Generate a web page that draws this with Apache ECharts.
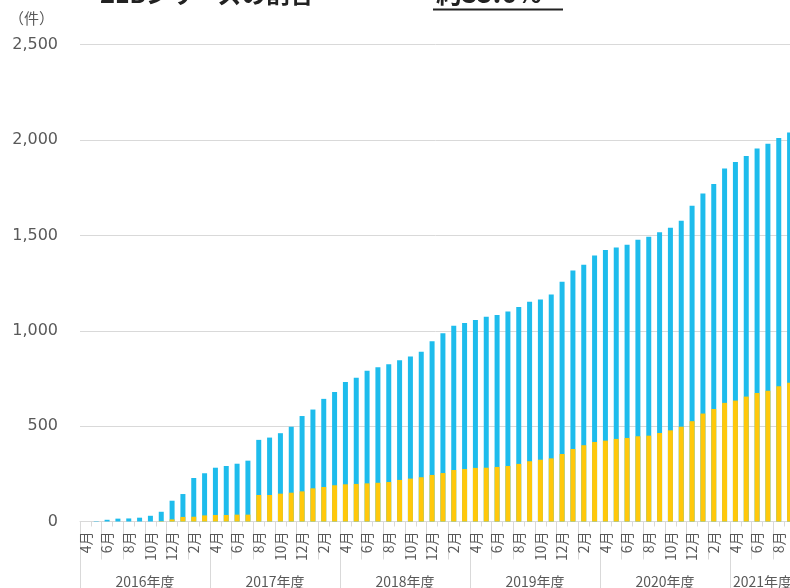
<!DOCTYPE html>
<html><head><meta charset="utf-8">
<script src="https://cdn.jsdelivr.net/npm/echarts@6/dist/echarts.min.js"></script>
<style>html,body{margin:0;padding:0;background:#fff}#c{width:790px;height:588px}</style>
</head><body><div id="c"></div>
<script>
// Month labels (fiscal years start in April), Apr 2016 .. Sep 2021
const monthNames = ['4月','5月','6月','7月','8月','9月','10月','11月','12月','1月','2月','3月'];
const fiscalYears = ['2016年度','2017年度','2018年度','2019年度','2020年度','2021年度'];
const monthsPerYear = [12, 12, 12, 12, 12, 6];

// Cumulative total count (件) — whole bar height
const totalCount = [
  0, 2, 9, 15, 16, 20, 30, 51, 109, 144, 228, 253,
  282, 291, 303, 319, 428, 440, 463, 497, 553, 587, 643, 679,
  732, 754, 790, 809, 825, 845, 865, 890, 945, 987, 1026, 1041,
  1057, 1073, 1083, 1101, 1125, 1152, 1164, 1190, 1257, 1316, 1346, 1395,
  1423, 1437, 1451, 1477, 1493, 1517, 1540, 1577, 1655, 1720, 1769, 1851,
  1885, 1916, 1956, 1981, 2011, 2040
];
// Cumulative ZEB-series count (件) — yellow part
const zebCount = [
  0, 0, 0, 0, 0, 0, 0, 2, 11, 24, 25, 32,
  34, 34, 36, 36, 139, 139, 146, 151, 158, 174, 181, 190,
  195, 197, 200, 203, 207, 218, 225, 232, 244, 254, 270, 275,
  281, 282, 286, 291, 302, 316, 324, 331, 354, 380, 400, 417,
  424, 433, 438, 447, 450, 464, 478, 497, 526, 566, 590, 622,
  634, 655, 674, 685, 709, 727
];
const yMax = 2500, yStep = 500;

// build category list
const months = [];
monthsPerYear.forEach(n => { for (let i = 0; i < n; i++) months.push(monthNames[i]); });
// fiscal-year axis: boundary positions (N+1 points), label at middle of each year
const yearAxis = new Array(months.length + 1).fill('');
const yearBounds = new Set([0]);
let acc = 0;
monthsPerYear.forEach((n, i) => {
  const mid = acc + n / 2;
  yearAxis[mid] = fiscalYears[i];
  acc += n;
  yearBounds.add(acc);
});

const gray = '#d9d9d9', txt = '#595959';
const chart = echarts.init(document.getElementById('c'), null, {renderer: 'canvas'});
chart.setOption({
  animation: false,
  backgroundColor: '#fff',
  grid: { left: 80, top: 44.7, width: 715, bottom: 66.5, containLabel: false, outerBoundsMode: 'none' },
  graphic: [
    { type: 'text', left: 100, top: -18, style: { text: 'ZEBシリーズの割合 ・・・', font: 'bold 24px "Noto Sans CJK JP"', fill: '#222' } },
    { type: 'text', left: 436, top: -20, style: { text: '約35.6%', font: 'bold 26px "Noto Sans CJK JP"', fill: '#222' } },
    { type: 'rect', shape: { x: 433, y: 8.5, width: 130, height: 2 }, style: { fill: '#222' } }
  ],
  xAxis: [
    {
      type: 'category', data: months, boundaryGap: true,
      axisLine: { show: true, lineStyle: { color: gray, width: 1 } },
      axisTick: { show: true, interval: 1, length: 38, lineStyle: { color: gray } },
      axisLabel: { interval: 1, rotate: 90, margin: 10, fontSize: 14, color: txt, padding: [5, 0, 0, 0],
        fontFamily: '"Noto Sans CJK JP", sans-serif' },
      splitLine: { show: false }
    },
    {
      type: 'category', data: months, boundaryGap: true, position: 'bottom',
      axisLine: { show: false },
      axisTick: { show: true, interval: 0, length: 5, lineStyle: { color: gray } },
      axisLabel: { show: false }, splitLine: { show: false }
    },
    {
      type: 'category', data: yearAxis, boundaryGap: false, position: 'bottom',
      axisLine: { show: false },
      axisTick: { show: true, length: 80, interval: (i) => yearBounds.has(i), lineStyle: { color: gray } },
      axisLabel: { show: true, interval: (i, v) => v !== '', margin: 53, fontSize: 14, color: txt,
        fontFamily: '"Noto Sans CJK JP", sans-serif' },
      splitLine: { show: false }
    }
  ],
  yAxis: {
    type: 'value', min: 0, max: yMax, interval: yStep,
    name: '（件）', nameLocation: 'end', nameGap: 26,
    nameTextStyle: { align: 'right', verticalAlign: 'middle', padding: [0, 26, 0, 0], fontSize: 15, color: txt,
      fontFamily: '"Noto Sans CJK JP", sans-serif' },
    axisLine: { show: false }, axisTick: { show: false },
    axisLabel: { margin: 22, fontSize: 16, color: txt, fontFamily: '"DejaVu Sans", sans-serif',
      formatter: v => v.toLocaleString('en-US') },
    splitLine: { show: true, lineStyle: { color: gray, width: 1 } }
  },
  series: [
    { name: '合計', type: 'bar', xAxisIndex: 0, data: totalCount, barWidth: 5,
      itemStyle: { color: '#1EBCEC' } },
    { name: 'ZEBシリーズ', type: 'bar', xAxisIndex: 0, data: zebCount, barWidth: 5, barGap: '-100%',
      itemStyle: { color: '#FFC80B' } }
  ]
});
</script></body></html>
